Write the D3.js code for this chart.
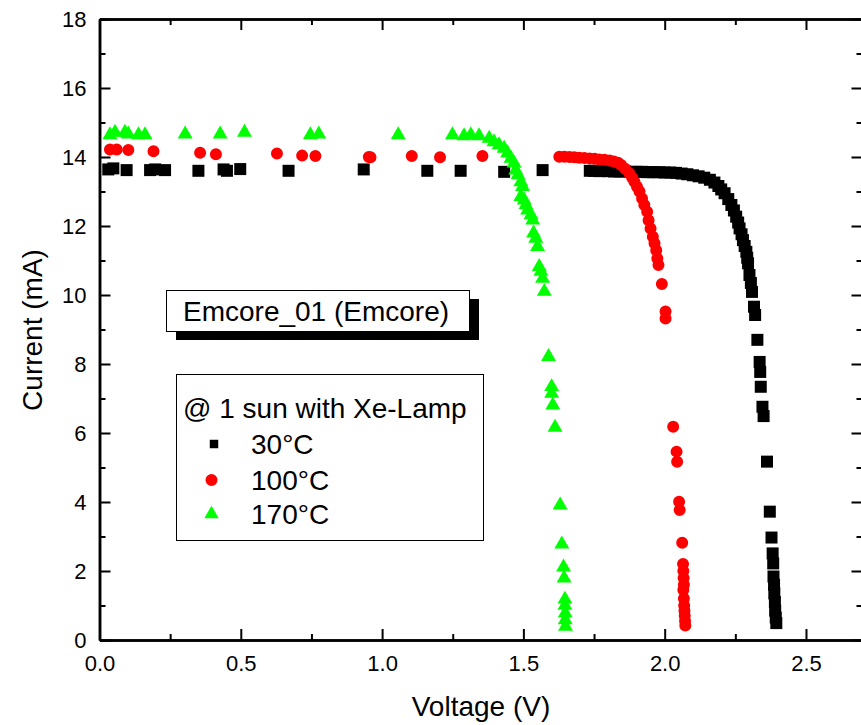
<!DOCTYPE html>
<html>
<head>
<meta charset="utf-8">
<script src="https://cdn.jsdelivr.net/npm/d3@7"></script>
<style>
  body { margin: 0; background: #fff; }
  svg { display: block; }
  svg text { font-family: "Liberation Sans", Arial, sans-serif; }
</style>
</head>
<body>
<div id="viz"></div>
<script>
// I-V data: [voltage V, current mA]
var pts30 = [
  [0.031,13.64],[0.049,13.67],[0.096,13.62],[0.179,13.62],[0.197,13.64],[0.232,13.62],[0.35,13.6],
  [0.439,13.64],[0.451,13.6],[0.498,13.65],[0.669,13.6],[0.935,13.64],[1.16,13.6],[1.278,13.6],
  [1.432,13.57],[1.568,13.62],
  [1.735,13.6],[1.75,13.6],[1.77,13.59],[1.785,13.6],[1.80,13.59],[1.82,13.58],[1.84,13.58],
  [1.86,13.58],[1.88,13.57],[1.90,13.57],[1.92,13.57],[1.94,13.56],[1.96,13.56],[1.98,13.56],
  [2.00,13.55],[2.02,13.55],[2.04,13.54],[2.06,13.52],[2.08,13.5],[2.10,13.47],[2.12,13.44],
  [2.14,13.4],[2.16,13.34],[2.176,13.26],[2.19,13.16],[2.20,13.06],[2.212,12.95],[2.225,12.78],
  [2.236,12.61],[2.245,12.45],[2.253,12.27],[2.26,12.1],[2.265,11.93],[2.272,11.76],[2.277,11.59],
  [2.283,11.42],[2.289,11.25],[2.292,11.08],[2.295,10.92],[2.3,10.58],[2.305,10.35],[2.309,10.09],
  [2.316,9.66],[2.32,9.42],[2.328,8.7],[2.336,8.06],[2.338,7.77],[2.34,7.34],[2.346,6.76],
  [2.35,6.49],[2.362,5.17],[2.372,3.72],[2.378,2.97],[2.382,2.51],[2.384,2.22],[2.385,1.84],
  [2.387,1.6],[2.388,1.35],[2.39,1.1],[2.391,0.85],[2.393,0.65],[2.395,0.49]
];
var pts100 = [
  [0.037,14.22],[0.061,14.22],[0.102,14.2],[0.191,14.17],[0.356,14.12],[0.412,14.08],[0.628,14.1],
  [0.717,14.04],[0.764,14.03],[0.953,14.0],[0.959,13.99],[1.105,14.03],[1.205,13.99],[1.355,14.03],
  [1.627,14.01],[1.645,14.01],[1.663,14.0],[1.68,13.99],[1.698,13.98],[1.716,13.97],[1.734,13.96],
  [1.752,13.95],[1.769,13.93],[1.787,13.92],[1.805,13.9],[1.82,13.87],[1.835,13.83],[1.846,13.77],
  [1.86,13.66],[1.875,13.53],[1.885,13.4],[1.893,13.28],[1.902,13.14],[1.911,13.0],[1.92,12.8],
  [1.928,12.61],[1.938,12.41],[1.943,12.17],[1.95,11.93],[1.958,11.69],[1.964,11.5],[1.97,11.3],
  [1.974,11.06],[1.978,10.87],[1.99,10.32],[2.003,9.52],[2.003,9.32],[2.03,6.18],[2.042,5.46],
  [2.044,5.17],[2.051,4.01],[2.053,3.77],[2.062,2.82],[2.065,2.2],[2.066,2.0],[2.067,1.8],
  [2.068,1.6],[2.066,1.45],[2.068,1.2],[2.069,1.0],[2.07,0.85],[2.071,0.7],[2.072,0.55],[2.073,0.42]
];
var pts170 = [
  [0.037,14.64],[0.055,14.71],[0.09,14.71],[0.102,14.66],[0.138,14.64],[0.161,14.64],[0.303,14.66],
  [0.427,14.66],[0.513,14.71],[0.746,14.64],[0.776,14.66],[1.057,14.64],
  [1.249,14.64],[1.29,14.61],[1.314,14.64],[1.343,14.61],[1.379,14.54],[1.396,14.44],[1.414,14.35],
  [1.432,14.25],[1.444,14.11],[1.456,13.96],[1.467,13.82],[1.473,13.62],[1.481,13.48],[1.491,13.28],
  [1.497,13.14],[1.491,12.85],[1.503,12.75],[1.509,12.61],[1.515,12.46],[1.527,12.32],[1.533,12.17],
  [1.536,11.79],[1.544,11.64],[1.55,11.4],[1.556,10.82],[1.562,10.68],[1.568,10.48],[1.574,10.1],
  [1.589,8.21],[1.6,7.34],[1.6,7.15],[1.604,6.81],[1.612,6.16],[1.63,3.91],[1.636,2.78],[1.642,2.11],
  [1.644,1.79],[1.647,1.18],[1.647,1.0],[1.648,0.78],[1.648,0.58],[1.649,0.39]
];

var seriesNames = ["30°C", "100°C", "170°C"];
var seriesColors = ["#000000", "#ff0000", "#00ff00"];
var seriesShapes = [d3.symbolSquare, d3.symbolCircle, d3.symbolTriangle];

var xTicks = [0, 0.5, 1.0, 1.5, 2.0, 2.5];
var xMinor = [0.25, 0.75, 1.25, 1.75, 2.25];
var yTicks = [0, 2, 4, 6, 8, 10, 12, 14, 16, 18];
var yMinor = [1, 3, 5, 7, 9, 11, 13, 15, 17];

var W = 861, H = 725;
var plot = {left: 99.5, right: 862.5, top: 19, bottom: 640};

var svg = d3.select("#viz").append("svg")
  .attr("width", W).attr("height", H);

var x = d3.scaleLinear().domain([0, 2.7]).range([plot.left, plot.right]);
var y = d3.scaleLinear().domain([0, 18]).range([plot.bottom, plot.top]);

// data marks
var all = [pts30, pts100, pts170];
var sizes = [144, 113, 97];
all.forEach(function (pts, k) {
  svg.append("g").selectAll("path")
    .data(pts)
    .enter().append("path")
    .attr("transform", d => "translate(" + x(d[0]) + "," + y(d[1]) + ")")
    .attr("d", d3.symbol().type(seriesShapes[k]).size(sizes[k]))
    .attr("fill", seriesColors[k]);
});

// axes, ticks pointing inward
function styleAxis(g) {
  g.attr("font-family", null).attr("font-size", null);
  g.select(".domain").attr("stroke-width", 2.5);
  g.selectAll(".tick line").attr("stroke-width", 2);
  g.selectAll("text").style("font-size", "22px").attr("fill", "#000");
}

svg.append("g").attr("transform", "translate(0," + plot.bottom + ")")
  .call(d3.axisBottom(x).tickValues(xTicks).tickSize(-11).tickSizeOuter(0)
    .tickPadding(15).tickFormat(d3.format(".1f")))
  .call(styleAxis);
svg.append("g").attr("transform", "translate(0," + plot.bottom + ")")
  .call(d3.axisBottom(x).tickValues(xMinor).tickSize(-6).tickSizeOuter(0).tickFormat(""))
  .call(styleAxis);
svg.append("g").attr("transform", "translate(0," + plot.top + ")")
  .call(d3.axisTop(x).tickValues(xTicks).tickSize(-11).tickSizeOuter(0).tickFormat(""))
  .call(styleAxis);
svg.append("g").attr("transform", "translate(0," + plot.top + ")")
  .call(d3.axisTop(x).tickValues(xMinor).tickSize(-6).tickSizeOuter(0).tickFormat(""))
  .call(styleAxis);

svg.append("g").attr("transform", "translate(" + plot.left + ",0)")
  .call(d3.axisLeft(y).tickValues(yTicks).tickSize(-11).tickSizeOuter(0).tickPadding(13))
  .call(styleAxis);
svg.append("g").attr("transform", "translate(" + plot.left + ",0)")
  .call(d3.axisLeft(y).tickValues(yMinor).tickSize(-6).tickSizeOuter(0).tickFormat(""))
  .call(styleAxis);
svg.append("g").attr("transform", "translate(" + plot.right + ",0)")
  .call(d3.axisRight(y).tickValues(yTicks).tickSize(-11).tickSizeOuter(0).tickFormat(""))
  .call(styleAxis);
svg.append("g").attr("transform", "translate(" + plot.right + ",0)")
  .call(d3.axisRight(y).tickValues(yMinor).tickSize(-6).tickSizeOuter(0).tickFormat(""))
  .call(styleAxis);

// axis titles
svg.append("text")
  .attr("x", 481).attr("y", 716)
  .attr("text-anchor", "middle")
  .style("font-size", "28px")
  .text("Voltage (V)");

svg.append("text")
  .attr("transform", "translate(42,330) rotate(-90)")
  .attr("text-anchor", "middle")
  .style("font-size", "28px")
  .text("Current (mA)");

// sample name box with shadow
svg.append("rect").attr("x", 176).attr("y", 299).attr("width", 303).attr("height", 41).attr("fill", "#000");
svg.append("rect").attr("x", 166.5).attr("y", 290.5).attr("width", 303).attr("height", 41)
  .attr("fill", "#fff").attr("stroke", "#000").attr("stroke-width", 1);
svg.append("text").attr("x", 183).attr("y", 321)
  .style("font-size", "28px").text("Emcore_01 (Emcore)");

// legend
svg.append("rect").attr("x", 176.5).attr("y", 374.5).attr("width", 307).attr("height", 166)
  .attr("fill", "#fff").attr("stroke", "#000").attr("stroke-width", 1);
svg.append("text").attr("x", 183).attr("y", 418)
  .style("font-size", "28px").text("@ 1 sun with Xe-Lamp");

var legY = [444, 480, 514];
var legSizes = [72, 113, 90];
var legend = svg.selectAll(".legend")
  .data(seriesNames)
  .enter().append("g")
  .attr("class", "legend");

legend.append("path")
  .attr("transform", (d, i) => "translate(" + (i === 0 ? 214 : 211.5) + "," + legY[i] + ")")
  .attr("d", (d, i) => d3.symbol().type(seriesShapes[i]).size(legSizes[i])())
  .attr("fill", (d, i) => seriesColors[i]);

legend.append("text")
  .attr("x", 251)
  .attr("y", (d, i) => legY[i] + 10)
  .style("font-size", "28px")
  .text(d => d);
</script>
</body>
</html>
